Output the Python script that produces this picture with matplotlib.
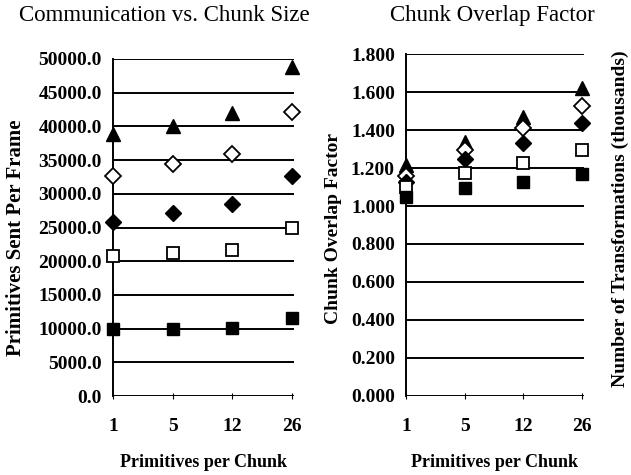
import matplotlib
matplotlib.use("Agg")
import matplotlib.pyplot as plt

# chunk sizes (primitives per chunk)
chunk_sizes = ["1", "5", "12", "26"]

# left chart: primitives sent per frame
sent_tri = [38900, 40100, 42000, 48800]
sent_open_dia = [32700, 34400, 35900, 42200]
sent_dia = [25800, 27200, 28500, 32700]
sent_open_sq = [20750, 21150, 21650, 24950]
sent_sq = [10000, 10000, 10050, 11500]

# right chart: chunk overlap factor
ovl_tri = [1.215, 1.339, 1.471, 1.621]
ovl_open_dia = [1.160, 1.296, 1.410, 1.528]
ovl_dia = [1.128, 1.246, 1.331, 1.436]
ovl_open_sq = [1.100, 1.173, 1.229, 1.296]
ovl_sq = [1.049, 1.094, 1.128, 1.169]

left_ticks = [0, 5000, 10000, 15000, 20000, 25000, 30000, 35000, 40000, 45000, 50000]
right_ticks = [0.0, 0.2, 0.4, 0.6, 0.8, 1.0, 1.2, 1.4, 1.6, 1.8]

plt.rcParams['font.family'] = ['Liberation Serif', 'DejaVu Serif']
plt.rcParams['font.weight'] = 'bold'

fig = plt.figure(figsize=(6.31, 4.75), dpi=100)
ax1 = fig.add_axes([0.179, 0.1663, 0.287, 0.7095])
ax2 = fig.add_axes([0.6434, 0.167, 0.282, 0.7187])

styles = [
    dict(marker='^', mfc='black', mec='black', ms=10),
    dict(marker='D', mfc='white', mec='black', ms=8, mew=1.3),
    dict(marker='D', mfc='black', mec='black', ms=8),
    dict(marker='s', mfc='white', mec='black', ms=8.5, mew=1.3),
    dict(marker='s', mfc='black', mec='black', ms=8.5),
]

xs = range(len(chunk_sizes))

def setup(ax, ticks, fmt, ymax):
    for t in ticks:
        ax.axhline(t, color='black', lw=1.4, zorder=1)
    ax.set_ylim(0, ymax)
    ax.set_xlim(0, 3.03)
    ax.set_yticks(ticks)
    ax.set_yticklabels([fmt.format(t) for t in ticks], fontsize=14, fontweight='bold')
    ax.set_xticks(list(xs))
    ax.set_xticklabels(chunk_sizes, fontsize=14, fontweight='bold')
    for s in ['top', 'right', 'bottom']:
        ax.spines[s].set_visible(False)
    ax.spines['left'].set_linewidth(1.4)
    ax.tick_params(axis='y', length=0, pad=8)
    ax.tick_params(axis='x', length=4, direction='inout', pad=14)
    ax.set_xlabel("Primitives per Chunk", fontsize=13, fontweight='bold')
    ax.xaxis.set_label_coords(0.5, -0.172)

setup(ax1, left_ticks, "{:.1f}", 50000)
for ys, st in zip([sent_tri, sent_open_dia, sent_dia, sent_open_sq, sent_sq], styles):
    ax1.plot(list(xs), ys, ls='none', clip_on=False, zorder=3, **st)
ax1.set_ylabel("Primitives Sent Per Frame", fontsize=15, fontweight='bold')
ax1.yaxis.set_label_coords(-0.48, 0.47)

setup(ax2, right_ticks, "{:.3f}", 1.8)
for ys, st in zip([ovl_tri, ovl_open_dia, ovl_dia, ovl_open_sq, ovl_sq], styles):
    ax2.plot(list(xs), ys, ls='none', clip_on=False, zorder=3, **st)
ax2.set_ylabel("Chunk Overlap Factor", fontsize=14, fontweight='bold')
ax2.yaxis.set_label_coords(-0.36, 0.49)

fig.text(0.261, 0.968, "Communication vs. Chunk Size", ha='center', va='center',
         fontsize=16.5, fontweight='normal')
fig.text(0.78, 0.968, "Chunk Overlap Factor", ha='center', va='center',
         fontsize=16.5, fontweight='normal')
fig.text(0.983, 0.54, "Number of Transformations (thousands)", ha='center', va='center',
         rotation=90, fontsize=14, fontweight='bold')

fig.savefig("out.png", dpi=100)
